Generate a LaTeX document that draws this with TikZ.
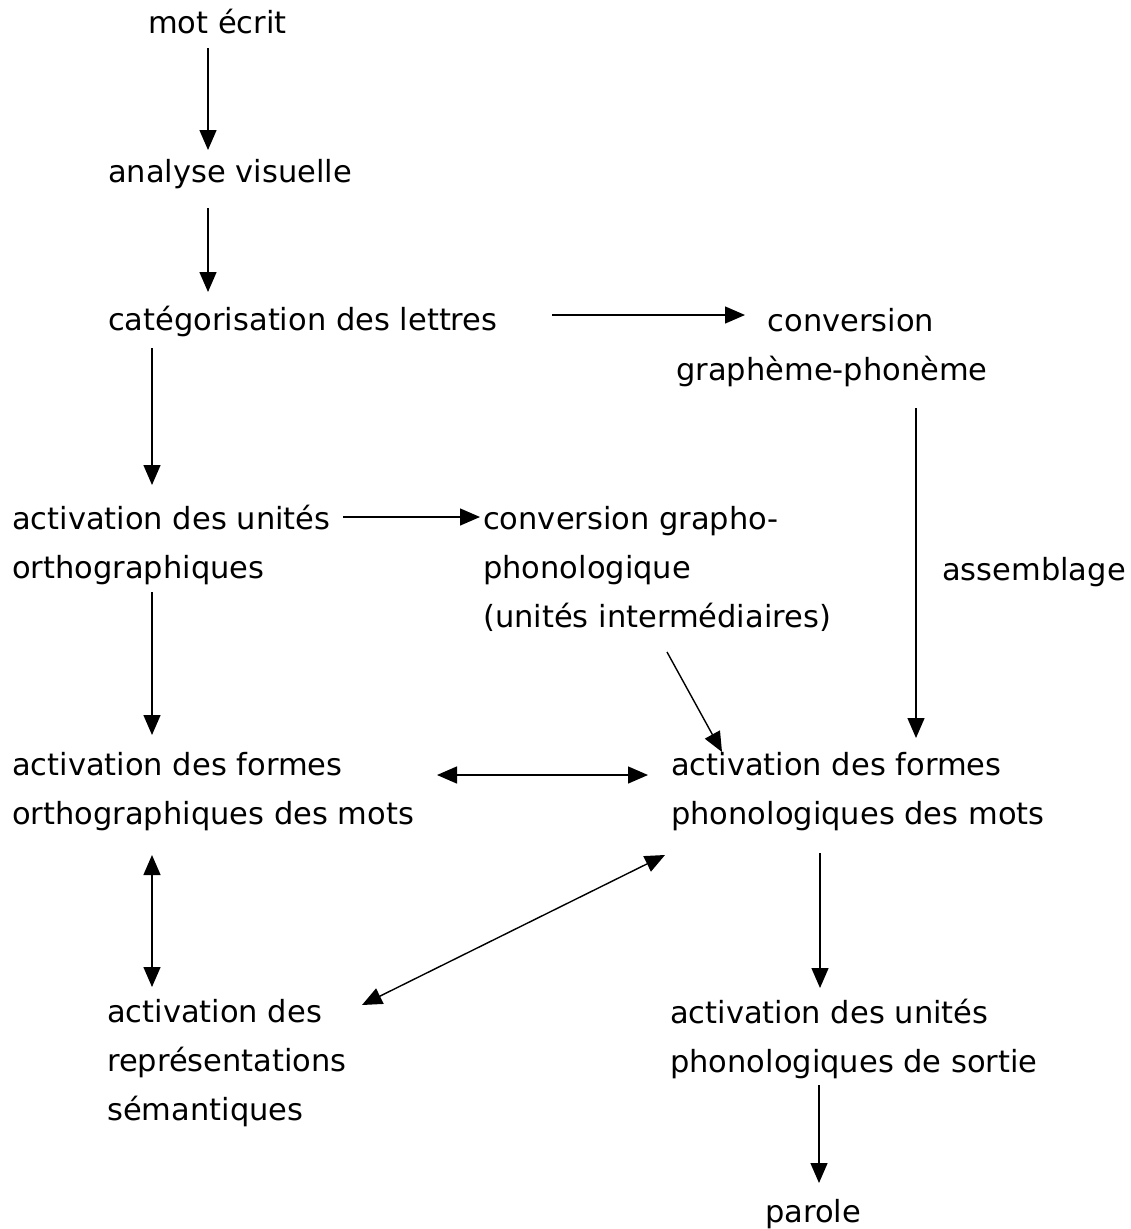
\documentclass[tikz,border=0pt]{standalone}
\usepackage{fontspec}
\setmainfont{DejaVu Sans}
\usetikzlibrary{arrows.meta}
\begin{document}
\begin{tikzpicture}[x=1pt,y=-1pt,
  lbl/.style={anchor=base west,inner sep=0pt,align=left,font=\fontsize{30.5}{49}\selectfont},
  arr/.style={line width=1.4pt,-{Triangle[length=20pt,width=17pt]}},
  darr/.style={line width=1.4pt,{Triangle[length=20pt,width=17pt]}-{Triangle[length=20pt,width=17pt]}}]
\useasboundingbox (0,0) rectangle (1130,1229);
% anchors are at the baseline of the last line of each text
\node[lbl] (mot) at (148,33) {mot écrit};
\node[lbl] (ana) at (108,182) {analyse visuelle};
\node[lbl] (cat) at (108,330) {catégorisation des lettres};
\node[lbl,anchor=base,align=center] (cgp) at (832,380) {\hspace*{38pt}conversion\\graphème-phonème};
\node[lbl] (auo) at (12,578) {activation des unités\\orthographiques};
\node[lbl] (cpp) at (483,627) {conversion grapho-\\phonologique\\(unités intermédiaires)};
\node[lbl] (asm) at (942,580) {assemblage};
\node[lbl] (afo) at (12,824) {activation des formes\\orthographiques des mots};
\node[lbl] (afp) at (671,824) {activation des formes\\phonologiques des mots};
\node[lbl] (ars) at (107,1120) {activation des\\représentations\\sémantiques};
\node[lbl] (aup) at (670,1072) {activation des unités\\phonologiques de sortie};
\node[lbl] (par) at (765,1222) {parole};

\draw[arr] ([shift={(60,15)}]mot.base west) -- ([shift={(100,-32)}]ana.base west);
\draw[arr] ([shift={(100,26)}]ana.base west) -- ([shift={(100,-38)}]cat.base west);
\draw[arr] ([shift={(444,-15)}]cat.base west) -- ([shift={(-87,-65)}]cgp.base);
\draw[arr] ([shift={(44,18)}]cat.base west) -- ([shift={(140,-93)}]auo.base west);
\draw[arr] ([shift={(331,-61)}]auo.base west) -- ([shift={(-3,-110)}]cpp.base west);
\draw[arr] ([shift={(84,28)}]cgp.base) -- ([shift={(245,-86)}]afp.base west);
\draw[arr] ([shift={(140,14)}]auo.base west) -- ([shift={(140,-89)}]afo.base west);
\draw[arr] ([shift={(184,25)}]cpp.base west) -- ([shift={(51,-72)}]afp.base west);
\draw[darr] ([shift={(425,-49)}]afo.base west) -- ([shift={(-23,-49)}]afp.base west);
\draw[darr] ([shift={(140,31)}]afo.base west) -- ([shift={(45,-133)}]ars.base west);
\draw[darr] ([shift={(-6,31)}]afp.base west) -- ([shift={(255,-115)}]ars.base west);
\draw[arr] ([shift={(149,29)}]afp.base west) -- ([shift={(150,-84)}]aup.base west);
\draw[arr] ([shift={(149,13)}]aup.base west) -- ([shift={(54,-39)}]par.base west);
\end{tikzpicture}
\end{document}
